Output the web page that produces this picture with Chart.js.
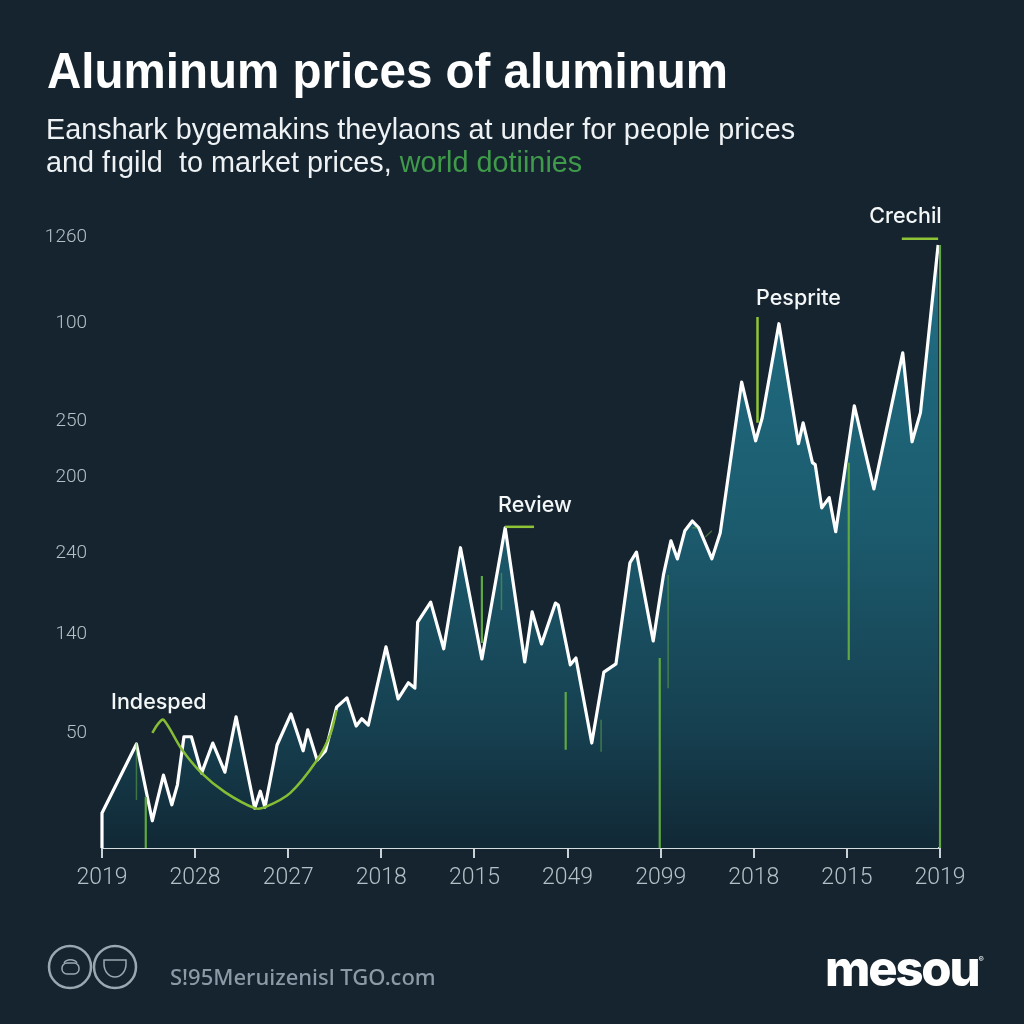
<!DOCTYPE html>
<html>
<head>
<meta charset="utf-8">
<script src="https://cdn.jsdelivr.net/npm/chart.js@4"></script>
<style>
body { margin: 0; width: 1024px; height: 1024px; background: #15242f; overflow: hidden; position: relative; }
canvas { position: absolute; left: 0; top: 0; }
.txt { position: absolute; white-space: nowrap; font-family: "Liberation Sans", sans-serif; }
#title { left: 47px; top: 42px; font-size: 50px; font-weight: 700; color: #fff; transform: scaleX(0.95); transform-origin: left top; }
.sub { left: 46px; font-size: 28.8px; color: #eef2f4; }
.sub span { color: #3f9a4a; }
#source { left: 170px; top: 961px; font-family: "Noto Sans", sans-serif; font-size: 22px; font-weight: 500; color: #8b9aa6; }
#brand { left: 825px; top: 939px; font-family: "Inter", sans-serif; font-size: 49px; font-weight: 800; color: #fff; letter-spacing: -2.2px; }
#icons { position: absolute; left: 46px; top: 942px; }
</style>
</head>
<body>
<canvas id="myChart" width="1024" height="1024"></canvas>
<div class="txt" id="title">Aluminum prices of aluminum</div>
<div class="txt sub" style="top:113px">Eanshark bygemakins theylaons at under for people prices</div>
<div class="txt sub" style="top:146px">and fıgild&nbsp; to market prices, <span>world dotiinies</span></div>
<svg id="icons" width="96" height="50" fill="none" stroke="#9aa8b2">
  <circle cx="24" cy="25" r="21" stroke-width="2.5"/>
  <circle cx="69" cy="25" r="21" stroke-width="2.5"/>
  <rect x="16" y="21" width="17" height="11" rx="5" stroke-width="1.5"/>
  <path d="M18 21a7 5 0 0 1 13 0" stroke-width="1.5"/>
  <path d="M58 18h22v4a11 13 0 0 1-22 0z" stroke-width="1.5"/>
</svg>
<div class="txt" id="source">S!95Meruizenisl TGO.com</div>
<div class="txt" id="brand">mesou<sup style="font-size:8px;font-weight:400;vertical-align:24px;letter-spacing:0">®</sup></div>
<script>
var years = ['2019','2028','2027','2018','2015','2049','2099','2018','2015','2019'];
var priceTicks = [1256,1079,879,762,607,439,237];
var priceLabels = ['1260','100','250','200','240','140','50'];

var times = [0,0,0.37,0.54,0.66,0.75,0.81,0.88,0.96,1.07,1.19,1.32,1.44,1.64,1.70,1.75,1.88,2.03,2.16,2.21,2.31,2.40,2.52,2.63,2.73,2.79,2.86,
  3.05,3.18,3.29,3.36,3.39,3.53,3.67,3.85,4.08,4.33,4.54,4.62,4.72,4.87,4.90,5.03,5.09,5.26,5.39,5.52,5.67,5.74,5.92,
  6.03,6.11,6.18,6.26,6.34,6.41,6.55,6.64,6.87,7.02,7.09,7.27,7.48,7.53,7.63,7.66,7.73,7.81,7.88,8.08,8.29,8.60,8.70,8.79,8.98];
var prices = [0,72,214,56,150,89,130,229,229,154,216,156,270,82,117,84,212,276,200,243,181,200,290,309,251,266,253,
  414,307,340,329,465,506,410,618,389,659,383,486,420,504,500,377,391,216,362,379,587,609,426,
  562,632,595,653,673,659,595,649,959,838,885,1079,832,875,793,789,700,721,651,910,739,1019,836,896,1241];

// the green curve under the first dip
var arcTimes = [0.54,0.60,0.66,0.86,1.07,1.32,1.64,1.75,2.02,2.31,2.45,2.52];
var arcPrices = [237,255,264,202,154,115,82,84,113,181,233,284];

// green callout lines, [time1, price1, time2, price2]
var brightLines = [[4.33,661,4.64,661],[7.04,1093,7.04,875],[8.59,1254,8.98,1254]];
var calloutLines = [
  [0.47,105,0.47,0],[4.08,560,4.08,422],[4.98,321,4.98,202],
  [5.99,391,5.99,0],[8.02,793,8.02,387],[9,1241,9,0]
];
var faintLines = [
  [0.37,216,0.37,99],[4.29,566,4.29,490],[5.36,264,5.36,198],[6.08,562,6.08,329],
  [6.34,659,6.39,659],[6.48,640,6.55,653]
];

var noteLabels = ['Indesped','Review','Pesprite','Crechil'];
var noteTimes = [0.61,4.65,7.48,8.63];
var notePrices = [299,704,1130,1299];

function pairUp(xs, ys) {
  return xs.map(function(x, i) { return {x: x, y: ys[i]}; });
}

function areaFill(context) {
  var area = context.chart.chartArea;
  if (!area) return 'transparent';
  var g = context.chart.ctx.createLinearGradient(0, area.top + 35, 0, area.bottom);
  g.addColorStop(0, '#216f85');
  g.addColorStop(0.45, '#1c5c6f');
  g.addColorStop(0.8, '#164050');
  g.addColorStop(1, '#112835');
  return g;
}

var datasets = [{
  data: pairUp(times, prices),
  borderColor: '#ffffff',
  borderWidth: 3.2,
  borderJoinStyle: 'round',
  backgroundColor: areaFill,
  fill: 'origin',
  pointRadius: 0,
  tension: 0,
  clip: false,
  order: 2
}, {
  data: pairUp(arcTimes, arcPrices),
  borderColor: '#86bd35',
  borderWidth: 2.5,
  pointRadius: 0,
  tension: 0.3,
  fill: false,
  order: 1
}];

function addLines(list, color, width) {
  list.forEach(function(s) {
    datasets.push({ data: [{x: s[0], y: s[1]}, {x: s[2], y: s[3]}], borderColor: color, borderWidth: width, pointRadius: 0, fill: false, clip: false, order: 1 });
  });
}
addLines(brightLines, '#8fc436', 2.5);
addLines(calloutLines, '#5fa843', 2.2);
addLines(faintLines, 'rgba(100,170,70,0.55)', 1.5);

var notesPlugin = {
  id: 'notes',
  afterDatasetsDraw: function(chart) {
    var c = chart.ctx;
    c.save();
    c.font = '500 21.5px Inter, sans-serif';
    c.fillStyle = '#f4f7f8';
    c.textAlign = 'center';
    c.textBaseline = 'middle';
    noteLabels.forEach(function(t, i) {
      c.fillText(t, chart.scales.x.getPixelForValue(noteTimes[i]), chart.scales.y.getPixelForValue(notePrices[i]));
    });
    c.restore();
  }
};

var ctx = document.getElementById('myChart');
var myChart = new Chart(ctx, {
  type: 'line',
  data: { datasets: datasets },
  plugins: [notesPlugin],
  options: {
    responsive: false,
    animation: false,
    layout: { padding: { top: 210, right: 84, left: 0, bottom: 0 } },
    plugins: { legend: { display: false }, tooltip: { enabled: false } },
    scales: {
      x: {
        type: 'linear',
        min: 0,
        max: 9,
        afterFit: function(s) { s.height = 176; },
        afterBuildTicks: function(s) { s.ticks = years.map(function(y, i) { return {value: i}; }); },
        grid: { drawOnChartArea: false, drawTicks: true, tickLength: 10, tickColor: '#c9d2d7', lineWidth: 2 },
        border: { color: '#d5dce0', width: 2 },
        ticks: {
          color: '#b4c0c7',
          padding: 6,
          maxRotation: 0,
          font: { family: 'Roboto', size: 23, weight: '300' },
          callback: function(v) { return years[v]; }
        }
      },
      y: {
        min: 0,
        max: 1313,
        afterFit: function(s) { s.width = 102; },
        afterBuildTicks: function(s) { s.ticks = priceTicks.map(function(p) { return {value: p}; }); },
        grid: { display: false },
        border: { display: false },
        ticks: {
          color: '#b4c0c7',
          padding: 7,
          font: { family: 'Roboto', size: 19, weight: '300' },
          callback: function(v) { return priceLabels[priceTicks.indexOf(v)]; }
        }
      }
    }
  }
});
</script>
</body>
</html>
